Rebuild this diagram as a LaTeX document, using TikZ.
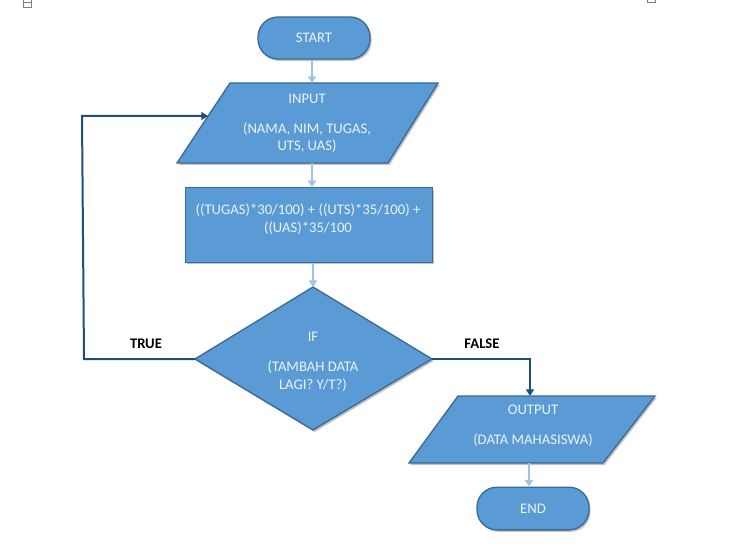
\documentclass[tikz,border=0pt]{standalone}
\usepackage{fontspec}
\setmainfont{Carlito}
\usetikzlibrary{arrows.meta,shadows}
\definecolor{boxfill}{HTML}{5B9BD5}
\definecolor{boxline}{HTML}{3A6A96}
\definecolor{boxtext}{HTML}{EAF2FA}
\definecolor{lightarrow}{HTML}{9DC3E6}
\definecolor{darkline}{HTML}{1F4E79}
\tikzset{
  shapebox/.style={fill=boxfill, draw=boxline, line width=1pt,
    drop shadow={shadow xshift=1.2pt, shadow yshift=-1.5pt, opacity=0.35, fill=black!70}},
  labeltext/.style={text=boxtext, font=\fontsize{11}{13.2}\selectfont, align=center, inner sep=0pt},
  flowlight/.style={draw=lightarrow, line width=1.5pt, -{Triangle[length=5pt,width=6pt]}},
  flowdark/.style={draw=darkline, line width=1.5pt, -{Triangle[length=5pt,width=6pt]}},
  branchlabel/.style={font=\bfseries\fontsize{11}{13.2}\selectfont, text=black, inner sep=0pt}
}
\begin{document}
\begin{tikzpicture}[x=0.75pt,y=-0.75pt]
\useasboundingbox (0,0) rectangle (739,556);
% tiny marks at top
\draw[gray, line width=0.6pt] (23,-1) rectangle (31,7);
\draw[gray, line width=0.6pt] (23,2) -- (31,2);
\draw[gray, line width=0.6pt] (647,-1) rectangle (655,2);

% START
\node[shapebox, rounded corners=15pt, minimum width=84pt, minimum height=31.5pt, inner sep=0pt] (start) at (314,38) {};
\node[labeltext] (starttext) at (start.center) {START};

% INPUT parallelogram
\coordinate (inTL) at (230,83);
\coordinate (inTR) at (438,83);
\coordinate (inBR) at (388,163);
\coordinate (inBL) at (177,163);
\draw[shapebox] (inTL) -- (inTR) -- (inBR) -- (inBL) -- cycle;
\coordinate (inTop) at (312,83);
\coordinate (inBot) at (312,163);
\coordinate (inLeft) at (208,116);
\node[labeltext] (input) at (307,123.5) {INPUT\\[9.3pt](NAMA, NIM, TUGAS,\\UTS, UAS)};

% PROCESS
\node[shapebox, minimum width=185.25pt, minimum height=56pt, inner sep=0pt] (proc) at (309,225) {};
\node[labeltext] (proctext) at (308,219) {((TUGAS)*30/100) + ((UTS)*35/100) +\\((UAS)*35/100};

% DECISION diamond
\coordinate (dT) at (313,287);
\coordinate (dR) at (432,359);
\coordinate (dB) at (313,430);
\coordinate (dL) at (195,359);
\draw[shapebox] (dT) -- (dR) -- (dB) -- (dL) -- cycle;
\node[labeltext] (dec) at (313,362) {IF\\[9.3pt](TAMBAH DATA\\LAGI? Y/T?)};

% OUTPUT parallelogram
\coordinate (oTL) at (458,396);
\coordinate (oTR) at (655,396);
\coordinate (oBR) at (603,463);
\coordinate (oBL) at (409,463);
\draw[shapebox] (oTL) -- (oTR) -- (oBR) -- (oBL) -- cycle;
\coordinate (oTop) at (530,396);
\coordinate (oBot) at (529,463);
\node[labeltext] (output) at (533,426) {OUTPUT\\[9.3pt](DATA MAHASISWA)};

% END
\node[shapebox, rounded corners=15pt, minimum width=84pt, minimum height=32pt, inner sep=0pt] (end) at (533,508.5) {};
\node[labeltext] (endtext) at (end.center) {END};

% connectors
\draw[flowlight] (start.south -| inTop) -- (inTop);
\draw[flowlight] (inBot) -- (inBot |- proc.north);
\draw[flowlight] (proc.south -| dT) -- (dT);
\draw[flowlight] (oBot) -- (oBot |- end.north);

\coordinate (tA) at (84,359);
\coordinate (tB) at (82,116);
\draw[flowdark] (dL) -- (tA) -- (tB) -- (inLeft);
\coordinate (fA) at (530,359);
\draw[flowdark] (dR) -- (fA) -- (oTop);

\node[branchlabel] (truelbl) at (146,344) {TRUE};
\node[branchlabel] (falselbl) at (482,344) {FALSE};
\end{tikzpicture}
\end{document}
